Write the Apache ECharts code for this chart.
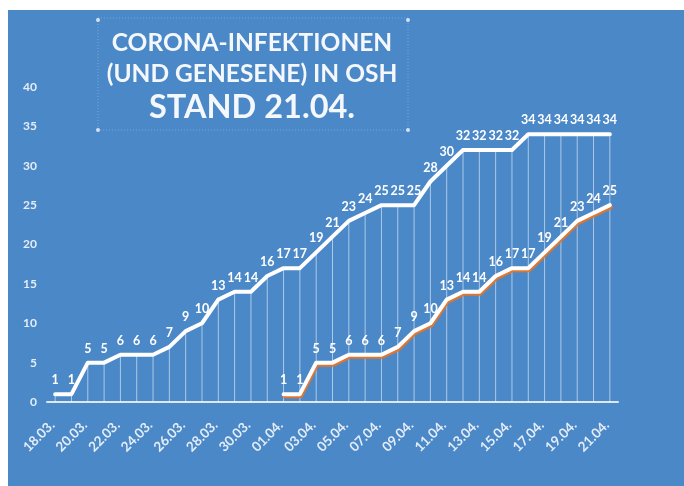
<!DOCTYPE html>
<html><head><meta charset="utf-8">
<script src="https://cdn.jsdelivr.net/npm/echarts@6/dist/echarts.min.js"></script>
<style>html,body{margin:0;padding:0;background:#fff;width:684px;height:486px;overflow:hidden}
#c{position:absolute;left:8px;top:10px;width:676px;height:476px}</style>
</head><body><div id="c"></div>
<script>
const dates = ['18.03.','19.03.','20.03.','21.03.','22.03.','23.03.','24.03.','25.03.','26.03.','27.03.','28.03.','29.03.','30.03.','31.03.',
'01.04.','02.04.','03.04.','04.04.','05.04.','06.04.','07.04.','08.04.','09.04.','10.04.','11.04.','12.04.','13.04.','14.04.','15.04.','16.04.','17.04.','18.04.','19.04.','20.04.','21.04.'];
const infektionen = [1,1,5,5,6,6,6,7,9,10,13,14,14,16,17,17,19,21,23,24,25,25,25,28,30,32,32,32,32,34,34,34,34,34,34];
const genesene = ['-','-','-','-','-','-','-','-','-','-','-','-','-','-',1,1,5,5,6,6,6,7,9,10,13,14,14,16,17,17,19,21,23,24,25];
const yTicks = [0,5,10,15,20,25,30,35,40];
const titleLines = ['CORONA-INFEKTIONEN','(UND GENESENE) IN OSH','STAND 21.04.'];

const chart = echarts.init(document.getElementById('c'));
const F = 'Lato, "Open Sans", sans-serif';
const lbl = {show:true, position:'top', distance:7, color:'#fff', fontFamily:F, fontWeight:'bold', fontSize:12.5};
const ox = -8, oy = -10;
const dotStyle = {fill:'rgba(255,255,255,0.75)'};
function dot(x,y){return {type:'circle', shape:{cx:x+ox, cy:y+oy, r:2}, style:dotStyle, silent:true};}
function title(t, y, size){return {type:'text', x:252+ox, y:y+oy, style:{text:t, fill:'#f4f7fb', font:'bold '+size+'px '+F, textAlign:'center', textVerticalAlign:'middle'}, silent:true};}
chart.setOption({
  backgroundColor:'#4b88c8',
  animation:false,
  grid:{left:39, right:66, top:77, bottom:84},
  xAxis:{type:'category', data:dates, boundaryGap:true,
    axisLine:{lineStyle:{color:'rgba(255,255,255,0.8)', width:2}},
    axisTick:{show:false},
    axisLabel:{interval:1, rotate:45, margin:18, padding:[0,4,0,0], color:'rgba(255,255,255,0.85)', fontFamily:F, fontWeight:'bold', fontSize:13.5}},
  yAxis:{type:'value', min:0, max:40, interval:5,
    axisLine:{show:false}, axisTick:{show:false}, splitLine:{show:false},
    axisLabel:{margin:10, color:'rgba(255,255,255,0.85)', fontFamily:F, fontWeight:'bold', fontSize:12,
      formatter: v => yTicks.includes(v) ? String(v) : ''}},
  graphic:[
    {type:'rect', shape:{x:98+ox, y:18+oy, width:310, height:112}, style:{fill:'none', stroke:'rgba(255,255,255,0.25)', lineDash:[1,2], lineWidth:1}, silent:true},
    dot(98,20), dot(408,20), dot(98,130), dot(408,130),
    title(titleLines[0], 43, 24.5),
    title(titleLines[1], 74, 24.5),
    title(titleLines[2], 108, 32.5)
  ],
  series:[
    {type:'bar', data:infektionen, barWidth:1, itemStyle:{color:'rgba(255,255,255,0.55)'}, z:1, silent:true},
    {type:'line', data:genesene, symbol:'circle', symbolSize:1, itemStyle:{color:'rgba(0,0,0,0)'}, z:3,
      lineStyle:{color:'#fff', width:4, cap:'round', join:'round', shadowColor:'#e0772f', shadowOffsetX:1, shadowOffsetY:2, shadowBlur:1},
      label:lbl},
    {type:'line', data:infektionen, symbol:'circle', symbolSize:1, itemStyle:{color:'rgba(0,0,0,0)'}, z:4,
      lineStyle:{color:'#fff', width:4, cap:'round', join:'round'},
      label:lbl}
  ]
});
</script></body></html>
